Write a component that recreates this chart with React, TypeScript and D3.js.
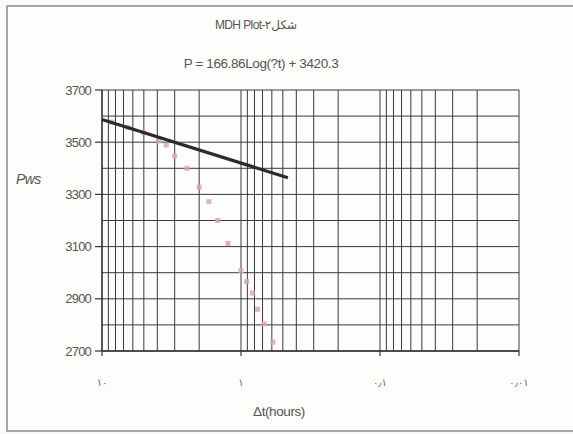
import React from "react";
import * as d3 from "d3";

// readings
const dtHours = [8.5, 6.5, 5.0, 3.9, 3.45, 3.0, 2.45, 2.0, 1.7, 1.47, 1.24, 1.0, 0.91, 0.83, 0.76, 0.68, 0.59];
const pws = [3577, 3556, 3537, 3505, 3489, 3447, 3400, 3328, 3272, 3200, 3112, 3008, 2966, 2922, 2860, 2804, 2734];

const trendSlope = 166.86;
const trendIntercept = 3420.3;
const trendRange = [10, 0.46];

const xMajor = [10, 1, 0.1, 0.01];
const xLabels = ["١٠", "١", "٠٫١", "٠٫٠١"];
const yLabels = [2700, 2900, 3100, 3300, 3500, 3700];

const W = 573;
const H = 434;
const plot = { left: 102, right: 519, top: 90, bottom: 351 };

const App = () => {
  const x = d3.scaleLog().domain([10, 0.01]).range([plot.left, plot.right]);
  const y = d3.scaleLinear().domain([2700, 3700]).range([plot.bottom, plot.top]);

  const xGrid = x.ticks();
  const yGrid = y.ticks(10);

  const trendLine = d3
    .line<number>()
    .x((t) => x(t))
    .y((t) => y(trendSlope * Math.log10(t) + trendIntercept));

  const font = "'Liberation Sans', Arial, 'DejaVu Sans', sans-serif";

  return (
    <div style={{ position: "absolute", left: 0, top: 0 }}>
      <svg width={W} height={H} style={{ display: "block", background: "#fafaf8" }}>
        <rect x={7} y={6} width={600} height={425} fill="#fdfdfb" stroke="#8a8a8a" strokeWidth={1.5} />

        <text x={256} y={29} textAnchor="middle" fontFamily={font} fontSize={12} fill="#555" letterSpacing={-0.6}>
          MDH Plot-شكل٢
        </text>
        <text x={261} y={68} textAnchor="middle" fontFamily={font} fontSize={13.5} fill="#555" letterSpacing={-0.4}>
          P = 166.86Log(?t) + 3420.3
        </text>

        {/* grid */}
        {yGrid.map((v) => (
          <line key={"h" + v} x1={plot.left} x2={plot.right} y1={y(v)} y2={y(v)} stroke="#3a3a3a" strokeWidth={1} />
        ))}
        {xGrid.map((v, i) => (
          <line key={"v" + i} x1={x(v)} x2={x(v)} y1={plot.top} y2={plot.bottom} stroke="#3a3a3a" strokeWidth={1} />
        ))}

        {/* axes */}
        <line x1={plot.left} x2={plot.left} y1={plot.top} y2={plot.bottom} stroke="#333" strokeWidth={1.3} />
        <line x1={plot.left} x2={plot.right} y1={plot.bottom} y2={plot.bottom} stroke="#333" strokeWidth={1.5} />
        {yLabels.map((v) => (
          <g key={"yt" + v}>
            <line x1={plot.left - 7} x2={plot.left} y1={y(v)} y2={y(v)} stroke="#333" strokeWidth={1.2} />
            <text x={plot.left - 11} y={y(v) + 4.5} textAnchor="end" fontFamily={font} fontSize={13} fill="#555" letterSpacing={-0.8}>
              {v}
            </text>
          </g>
        ))}
        {xMajor.map((v, i) => (
          <g key={"xt" + v}>
            <line x1={x(v)} x2={x(v)} y1={plot.bottom} y2={plot.bottom + 5} stroke="#333" strokeWidth={1.2} />
            <text x={x(v)} y={plot.bottom + 35} textAnchor="middle" fontFamily="'DejaVu Sans', sans-serif" fontSize={10} fill="#666">
              {xLabels[i]}
            </text>
          </g>
        ))}

        <text x={16} y={184} fontFamily={font} fontSize={14} fontStyle="italic" fill="#555" letterSpacing={-0.6}>
          Pws
        </text>
        <text x={279} y={416} textAnchor="middle" fontFamily={font} fontSize={13.5} fill="#555" letterSpacing={-0.4}>
          Δt(hours)
        </text>

        {/* measured points */}
        {dtHours.map((t, i) => (
          <rect
            key={"p" + i}
            x={x(t) - 2.5}
            y={y(pws[i]) - 2.5}
            width={5}
            height={5}
            fill="#d6a3c9"
            opacity={0.85}
          />
        ))}

        {/* semilog straight line */}
        <path d={trendLine(trendRange) || ""} fill="none" stroke="#2b2b2b" strokeWidth={3.2} />
      </svg>
    </div>
  );
};

export default App;
